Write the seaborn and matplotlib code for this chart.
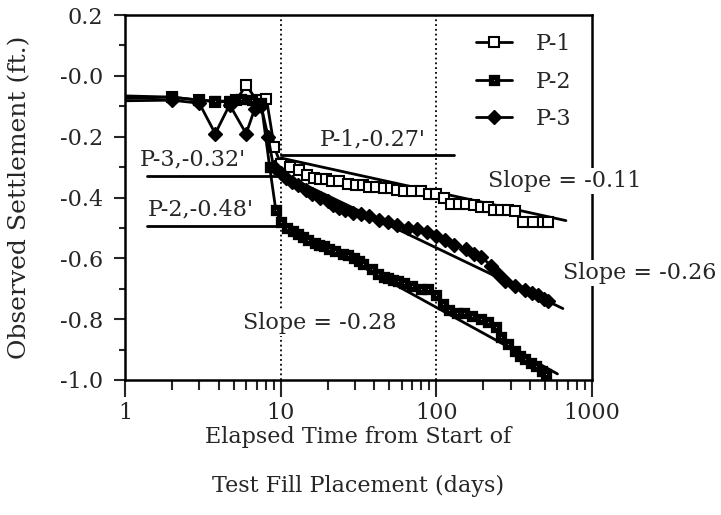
import matplotlib
matplotlib.use("Agg")
import matplotlib.pyplot as plt
import seaborn as sns
import pandas as pd

# P-1 (open squares)
p1_days = [1.0, 2.0, 3.0, 3.8, 4.7, 5.2, 6.0, 7.0, 8.1, 9.1, 10.0, 11.5, 13.1, 14.7, 16.4, 18.0,
           19.6, 21.5, 23.7, 27.0, 30.5, 34.0, 37.0, 41.0, 46.0, 51.0, 56.0, 62.0, 70.0, 80.0, 90.0,
           100.0, 112.0, 125.0, 140.0, 154.0, 175.0, 195.0, 215.0, 233.0, 262.0, 290.0, 320.0,
           362.0, 420.0, 488.0, 525.0]
p1_settle = [-0.066, -0.07, -0.08, -0.085, -0.085, -0.08, -0.03, -0.08, -0.075, -0.235, -0.29,
             -0.30, -0.31, -0.325, -0.335, -0.34, -0.34, -0.345, -0.345, -0.355, -0.36, -0.36,
             -0.365, -0.365, -0.37, -0.37, -0.375, -0.38, -0.38, -0.38, -0.39, -0.39, -0.40,
             -0.42, -0.42, -0.42, -0.425, -0.43, -0.43, -0.44, -0.44, -0.44, -0.445, -0.48,
             -0.48, -0.48, -0.48]

# P-2 (filled squares)
p2_days = [1.0, 2.0, 3.0, 3.8, 4.7, 5.6, 6.5, 7.5, 8.5, 9.3, 10.0, 11.0, 12.0, 13.0, 14.0, 15.0,
           16.5, 17.7, 19.0, 20.5, 22.5, 25.0, 27.0, 29.6, 32.0, 34.0, 38.6, 42.0, 46.0, 49.0,
           53.0, 57.0, 62.0, 70.0, 80.0, 88.0, 100.0, 110.0, 120.0, 135.0, 150.0, 170.0, 195.0,
           215.0, 240.0, 262.0, 290.0, 320.0, 345.0, 372.0, 405.0, 440.0, 475.0, 510.0]
p2_settle = [-0.074, -0.07, -0.08, -0.083, -0.083, -0.077, -0.08, -0.09, -0.30, -0.44, -0.48,
             -0.50, -0.51, -0.52, -0.53, -0.54, -0.55, -0.555, -0.56, -0.57, -0.575, -0.585,
             -0.59, -0.60, -0.61, -0.62, -0.635, -0.65, -0.66, -0.665, -0.67, -0.675, -0.68,
             -0.69, -0.70, -0.70, -0.72, -0.75, -0.77, -0.78, -0.78, -0.79, -0.80, -0.81, -0.825,
             -0.86, -0.88, -0.905, -0.92, -0.93, -0.945, -0.955, -0.97, -0.98]

# P-3 (filled diamonds)
p3_days = [1.0, 2.0, 3.0, 3.8, 4.7, 6.0, 6.8, 7.5, 8.3, 9.0, 10.0, 10.8, 11.9, 13.0, 14.5, 16.0,
           18.0, 20.0, 21.8, 23.7, 26.0, 29.0, 33.0, 37.0, 43.0, 49.0, 56.0, 66.0, 75.0, 87.0,
           100.0, 114.0, 130.0, 154.0, 175.0, 195.0, 225.0, 250.0, 275.0, 320.0, 372.0, 410.0,
           450.0, 490.0, 525.0]
p3_settle = [-0.082, -0.08, -0.09, -0.19, -0.095, -0.19, -0.11, -0.10, -0.20, -0.30, -0.32,
             -0.335, -0.35, -0.36, -0.375, -0.39, -0.40, -0.41, -0.425, -0.435, -0.44, -0.45,
             -0.455, -0.46, -0.475, -0.48, -0.49, -0.50, -0.505, -0.515, -0.525, -0.54, -0.555,
             -0.57, -0.585, -0.595, -0.625, -0.65, -0.675, -0.69, -0.705, -0.715, -0.72,
             -0.735, -0.74]

# straight-line fits (end points)
fit1_days, fit1_settle = [10, 680], [-0.27, -0.476]
fit2_days, fit2_settle = [10, 600], [-0.48, -0.98]
fit3_days, fit3_settle = [10, 650], [-0.32, -0.765]

# settlement-at-10-days reference lines
ref1_days, ref1_level = [10, 129], [-0.26, -0.26]
ref2_days, ref2_level = [1.38, 10], [-0.495, -0.495]
ref3_days, ref3_level = [1.38, 10], [-0.33, -0.33]

y_ticks = [0.2, 0.0, -0.2, -0.4, -0.6, -0.8, -1.0]
y_tick_labels = ["0.2", "-0.0", "-0.2", "-0.4", "-0.6", "-0.8", "-1.0"]
x_ticks = [1, 10, 100, 1000]
x_tick_labels = ["1", "10", "100", "1000"]

sns.set_style("ticks")
plt.rcParams["font.family"] = ["DejaVu Serif"]
plt.rcParams["font.size"] = 16

fig = plt.figure(figsize=(7.21, 5.15), dpi=100)
ax = fig.add_axes([125 / 721, 1 - 380 / 515, 467 / 721, 365 / 515])

# data series
sns.lineplot(x=p1_days, y=p1_settle, ax=ax, color="black", lw=2, sort=False, estimator=None,
             marker="s", markersize=7, markerfacecolor="white", markeredgecolor="black",
             markeredgewidth=1.5, markevery=slice(1, None), label="P-1", zorder=4)
sns.lineplot(x=p2_days, y=p2_settle, ax=ax, color="black", lw=2, sort=False, estimator=None,
             marker="s", markersize=5, markerfacecolor="white", markeredgecolor="black",
             markeredgewidth=3.8, markevery=slice(1, None), label="P-2", zorder=4)
sns.lineplot(x=p3_days, y=p3_settle, ax=ax, color="black", lw=2, sort=False, estimator=None,
             marker="D", markersize=7, markerfacecolor="black", markeredgecolor="black",
             markeredgewidth=1.0, markevery=slice(1, None), label="P-3", zorder=4)

# fits and reference lines
for fx, fy in [(fit1_days, fit1_settle), (fit2_days, fit2_settle), (fit3_days, fit3_settle),
               (ref1_days, ref1_level), (ref2_days, ref2_level), (ref3_days, ref3_level)]:
    sns.lineplot(x=fx, y=fy, ax=ax, color="black", lw=2, sort=False, estimator=None,
                 legend=False, zorder=3)

ax.set_xscale("log")
ax.set_xlim(1, 1000)
ax.set_ylim(-1.0, 0.2)
ax.set_xticks(x_ticks)
ax.set_xticklabels(x_tick_labels)
ax.set_yticks(y_ticks)
ax.set_yticklabels(y_tick_labels)
ax.yaxis.set_minor_locator(matplotlib.ticker.MultipleLocator(0.1))
ax.tick_params(which="major", direction="out", length=8, width=1.5, labelsize=16, pad=8)
ax.tick_params(which="minor", direction="out", length=4.5, width=1.5)
ax.tick_params(axis="x", which="major", length=12, pad=4)
ax.tick_params(axis="x", which="minor", length=7)
for s in ax.spines.values():
    s.set_linewidth(1.8)
    s.set_color("black")
for xv in [10, 100]:
    ax.axvline(xv, color="black", ls=":", lw=1.3, zorder=1)

ax.set_ylabel("Observed Settlement (ft.)", fontsize=18)
ax.yaxis.set_label_coords(-0.2, 0.5)
ax.set_xlabel("Elapsed Time from Start of\nTest Fill Placement (days)", fontsize=16,
              linespacing=2.6)
ax.xaxis.set_label_coords(0.5, -0.125)

box = dict(facecolor="white", edgecolor="none", pad=1.5)
ax.text(1.25, -0.293, "P-3,-0.32'", fontsize=16, ha="left", va="baseline", bbox=box, zorder=6)
ax.text(1.40, -0.459, "P-2,-0.48'", fontsize=16, ha="left", va="baseline", bbox=box, zorder=6)
ax.text(17.7, -0.23, "P-1,-0.27'", fontsize=16, ha="left", va="baseline", bbox=box, zorder=6)
ax.text(216, -0.366, "Slope = -0.11", fontsize=16, ha="left", va="baseline", bbox=box,
        zorder=6, clip_on=False)
ax.text(653, -0.667, "Slope = -0.26", fontsize=16, ha="left", va="baseline", bbox=box,
        zorder=6, clip_on=False)
ax.text(5.69, -0.831, "Slope = -0.28", fontsize=16, ha="left", va="baseline", bbox=box,
        zorder=6)

ax.legend(loc="upper left", bbox_to_anchor=(476 / 721, 1 - 33 / 515),
          bbox_transform=fig.transFigure, frameon=False, fontsize=16, handlelength=1.6,
          handletextpad=1.1, labelspacing=0.7, borderpad=0, borderaxespad=0)

fig.savefig("out.png", dpi=100)
